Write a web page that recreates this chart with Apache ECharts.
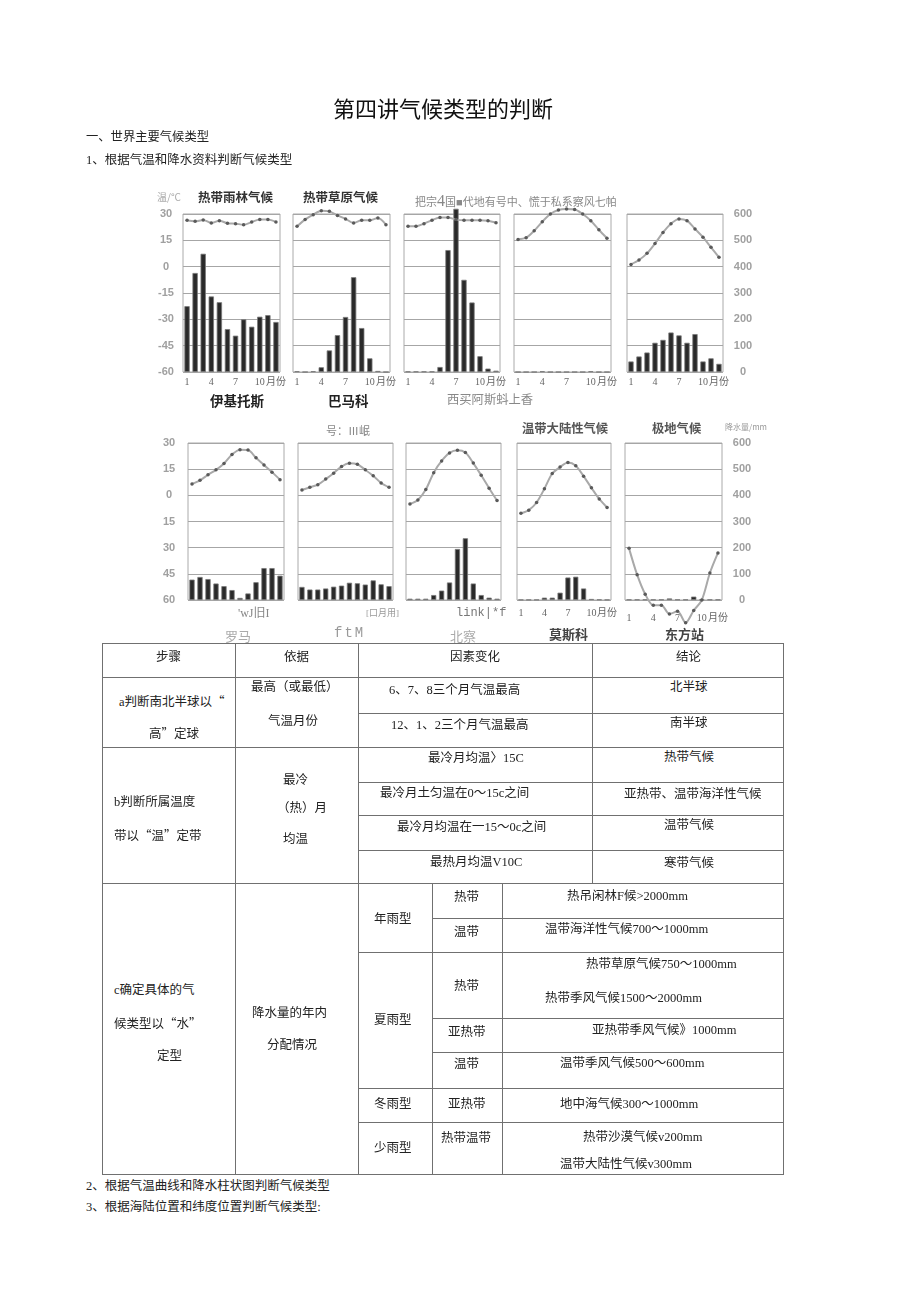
<!DOCTYPE html>
<html><head><meta charset="utf-8">
<script src="https://cdn.jsdelivr.net/npm/echarts@6.0.0/dist/echarts.min.js"></script>
<style>
html,body{margin:0;padding:0;background:#fff;}
body{width:920px;height:1303px;position:relative;overflow:hidden;font-family:"Liberation Serif","Noto Sans CJK SC",serif;color:#222;}
#chart{position:absolute;left:0;top:0;width:920px;height:660px;}
.t{position:absolute;white-space:nowrap;line-height:1;z-index:2;}
.ln{position:absolute;background:#707070;z-index:1;}
.qo{display:inline-block;width:1em;text-align:right;font-family:"Noto Sans CJK SC";}
.qc{display:inline-block;width:1em;text-align:left;font-family:"Noto Sans CJK SC";}
</style></head><body>
<div id="chart"></div>
<script>
// ---------- DATA ----------
const months = ['1','2','3','4','5','6','7','8','9','10','11','12'];
const monthTickLabels = ['1','','','4','','','7','','','10','','月份'];
const tempTickValues = [30,15,0,-15,-30,-45,-60];
const tempTicksTop = ['30','15','0','-15','-30','-45','-60'];
const tempTicksBottom = ['30','15','0','15','30','45','60'];
const precipTickValues = [600,500,400,300,200,100,0];
const precipTicks = ['600','500','400','300','200','100','0'];

// top row
const iquitosTemp = [26.4,25.8,26.6,24.9,26.2,24.7,24.5,23.9,25.4,26.8,26.8,25.4];
const iquitosPrec = [250,376,449,287,265,163,138,200,172,210,216,190];
const bamakoTemp = [23,26.8,29.6,31.9,31.5,29.2,27.2,24.9,26.4,26.4,27.7,23.9];
const bamakoPrec = [3,0,3,18,82,140,209,360,167,52,4,0];
const mumbaiTemp = [23,23,24.5,26.5,28,28,26.8,26.4,26.4,26.4,26.2,25];
const mumbaiPrec = [2,2,2,2,19,463,620,350,264,60,13,5];
const desertTemp = [15.5,16.5,20.5,25.6,30,32.3,32.8,32.6,30,26.2,21,16.2];
const desertPrec = [0,0,0,3,0,0,0,0,0,3,0,0];
const monsoonTemp = [1.3,3.8,7.6,13.2,19.5,24.5,27.2,26.2,21.5,16.8,11,5.3];
const monsoonPrec = [40,59,74,111,122,150,139,111,144,40,52,31];
// bottom row
const romeTemp = [6.5,8.6,11.8,14.6,18.3,23.4,26.2,26,21.5,17.4,13.3,9];
const romePrec = [78,88,80,63,53,38,8,25,68,122,122,93];
const londonTemp = [3.1,4.6,6.1,9.3,12.7,16.5,18.4,17.8,14.6,11.2,7.1,4.6];
const londonPrec = [50,40,40,44,51,55,66,64,59,75,60,53];
const beijingTemp = [-5,-2.7,3.3,13,19.7,24.3,25.8,24.5,18.5,11.5,4.1,-3];
const beijingPrec = [5,5,5,19,36,67,195,236,63,19,9,5];
const moscowTemp = [-10.3,-8.5,-4.1,3.8,12.5,16.2,18.8,17,11,4.3,-2.1,-7];
const moscowPrec = [1,1,1,9,9,28,86,89,44,4,2,1];
const vostokTemp = [-30.4,-45.5,-56.7,-63,-63,-68,-66.5,-73,-66,-60,-44.5,-33];
const vostokPrec = [2,2,2,2,2,6,2,2,13,2,2,2];

const tempSeries = [iquitosTemp,bamakoTemp,mumbaiTemp,desertTemp,monsoonTemp,romeTemp,londonTemp,beijingTemp,moscowTemp,vostokTemp];
const precSeries = [iquitosPrec,bamakoPrec,mumbaiPrec,desertPrec,monsoonPrec,romePrec,londonPrec,beijingPrec,moscowPrec,vostokPrec];

// chart annotation texts
const topTitles = ['温/°C','热带雨林气候','热带草原气候'];
const topNames = ['伊基托斯','巴马科','西买阿斯蚪上香'];
const bottomTitles = ['号：Ⅲ岷','温带大陆性气候','极地气候','降水量/mm'];
const bottomAxisNotes = ["'wJ旧I",'[口月用]','link|*f'];
const bottomNames = ['罗马','ftM','北察','莫斯科','东方站'];

// ---------- LAYOUT ----------
const panelRects = [
  [183,214,97,158],[293,214,97,158],[404,214,96,158],[514,214,97,158],[627,214,96,158],
  [188,443,96,157],[298,443,95,157],[406,443,95,157],[517,443,94,157],[625,443,97,157]
];
const showMonths = [true,true,true,true,true,false,false,false,true,true];
const monthMargins = [5,5,5,5,5,8,8,8,8,13];

const grids=[],xAxes=[],yAxes=[],series=[];
panelRects.forEach((r,i)=>{
  const bottomRow = i>=5;
  grids.push({left:r[0],top:r[1],width:r[2],height:r[3],show:true,borderColor:'#aaaaaa',borderWidth:1,backgroundColor:'transparent'});
  xAxes.push({type:'category',gridIndex:i,data:months,boundaryGap:true,
    axisLine:{show:false},axisTick:{show:false},splitLine:{show:false},
    axisLabel:{show:showMonths[i],interval:0,margin:monthMargins[i],fontSize:10,color:'#666',
      fontFamily:'Liberation Serif, Noto Sans CJK SC',
      formatter:(v,idx)=>monthTickLabels[idx]}});
  const tlabels = bottomRow?tempTicksBottom:tempTicksTop;
  yAxes.push({type:'value',gridIndex:i,min:-60,max:30,interval:15,position:'left',
    axisLine:{show:false},axisTick:{show:false},
    splitLine:{show:true,lineStyle:{color:'#a6a6a6',width:1}},
    axisLabel:{show:(i%5===0),align:'center',margin:bottomRow?19:17,fontSize:11,fontWeight:'bold',color:'#a0a0a0',
      fontFamily:'Liberation Sans',
      formatter:v=>{const k=tempTickValues.indexOf(v);return k>=0?tlabels[k]:'';}}});
  yAxes.push({type:'value',gridIndex:i,min:0,max:600,interval:100,position:'right',
    axisLine:{show:false},axisTick:{show:false},splitLine:{show:false},
    axisLabel:{show:(i%5===4),align:'center',margin:20,fontSize:11,fontWeight:'bold',color:'#a0a0a0',
      fontFamily:'Liberation Sans',
      formatter:v=>{const k=precipTickValues.indexOf(v);return k>=0?precipTicks[k]:'';}}});
  series.push({type:'bar',xAxisIndex:i,yAxisIndex:2*i+1,data:precSeries[i],barWidth:'66%',clip:false,z:2,
    itemStyle:{color:'#2a2a2a',borderColor:'#7a7a7a',borderWidth:0.8}});
  series.push({type:'line',xAxisIndex:i,yAxisIndex:2*i,data:tempSeries[i],smooth:0.3,clip:false,z:3,
    symbol:'circle',symbolSize:3.5,showSymbol:true,
    lineStyle:{color:'#a9a9a9',width:2},itemStyle:{color:'#5a5a5a'}});
});

const chart = echarts.init(document.getElementById('chart'),null,{renderer:'canvas'});
chart.setOption({animation:false,grid:grids,xAxis:xAxes,yAxis:yAxes,series:series});

// ---------- TEXT OVERLAYS ----------
function esc(s){return s.replace(/&/g,'&amp;').replace(/</g,'&lt;').replace(/>/g,'&gt;');}
function T(text,x,y,size,opt){
  opt=opt||{};
  const d=document.createElement('div');
  d.className='t';
  d.innerHTML=opt.html?text:esc(text).replace(/“/g,'<span class="qo">“</span>').replace(/”/g,'<span class="qc">”</span>');
  d.style.left=x+'px';
  d.style.top=(y-size/2)+'px';
  d.style.fontSize=size+'px';
  d.style.height=size+'px';
  if(opt.color) d.style.color=opt.color;
  if(opt.bold) d.style.fontWeight='bold';
  if(opt.family) d.style.fontFamily=opt.family;
  if(opt.ls) d.style.letterSpacing=opt.ls;
  document.body.appendChild(d);
}
function H(x1,x2,y){const d=document.createElement('div');d.className='ln';d.style.left=x1+'px';d.style.top=y+'px';d.style.width=(x2-x1+1)+'px';d.style.height='1px';document.body.appendChild(d);}
function V(x,y1,y2){const d=document.createElement('div');d.className='ln';d.style.left=x+'px';d.style.top=y1+'px';d.style.width='1px';d.style.height=(y2-y1+1)+'px';document.body.appendChild(d);}

const sans='"Noto Sans CJK SC",sans-serif';
// document headings
T('第四讲气候类型的判断',333,107,22,{family:sans,color:'#111'});
T('一、世界主要气候类型',86,137,12.3);
T('1、根据气温和降水资料判断气候类型',86,160,12.5);
T('2、根据气温曲线和降水柱状图判断气候类型',86,1186,12.5);
T('3、根据海陆位置和纬度位置判断气候类型:',86,1207,12.5);

// chart annotations
T(topTitles[0],157,197,10,{color:'#aaa',family:sans});
T(topTitles[1],198,197,12.5,{color:'#333',bold:true,family:sans});
T(topTitles[2],303,197,12.5,{color:'#333',bold:true,family:sans});
T('把宗<span style="font-size:16px">4</span>国■代地有号中、慌于私系察风七帕',415,198,11,{color:'#888',html:true});
T(topNames[0],210,401,13.5,{color:'#222',bold:true,family:sans});
T(topNames[1],328,401,13.5,{color:'#222',bold:true,family:sans});
T(topNames[2],447,400,12.3,{color:'#888'});
T(bottomTitles[0],326,431,11,{color:'#888'});
T(bottomTitles[1],522,428,12.3,{color:'#555',bold:true,family:sans});
T(bottomTitles[2],652,428,12.3,{color:'#555',bold:true,family:sans});
T(bottomTitles[3],725,427,8,{color:'#999',family:sans});
T(bottomAxisNotes[0],238,613,12,{color:'#888'});
T(bottomAxisNotes[1],366,613,9,{color:'#999'});
T(bottomAxisNotes[2],456,613,12,{color:'#777',family:'Liberation Mono'});
T(bottomNames[0],225,636,13,{color:'#aaa'});
T(bottomNames[1],334,633,14,{color:'#999',family:'Liberation Mono',ls:'2px'});
T(bottomNames[2],450,636,13,{color:'#aaa'});
T(bottomNames[3],549,633,13,{color:'#444',bold:true,family:sans});
T(bottomNames[4],665,633,13,{color:'#444',bold:true,family:sans});

// ---------- TABLE ----------
H(102,783,643); H(102,783,677); H(102,783,747); H(102,783,883); H(102,783,1174);
V(102,643,1174); V(235,643,1174); V(358,643,1174); V(783,643,1174);
V(592,643,883); V(432,883,1174); V(502,883,1174);
H(358,783,713); H(358,783,782); H(358,783,815); H(358,783,850);
H(432,783,918); H(358,783,952); H(432,783,1018); H(432,783,1052); H(358,783,1088); H(358,783,1122);

const fs=12.5;
T('步骤',156,657,fs); T('依据',284,657,fs); T('因素变化',450,657,fs); T('结论',676,657,fs);
T('a判断南北半球以“',119,701,fs); T('高”定球',149,733,fs);
T('最高（或最低）',251,687,fs); T('气温月份',268,721,fs);
T('6、7、8三个月气温最高',389,690,fs); T('12、1、2三个月气温最高',391,725,fs);
T('北半球',670,687,fs); T('南半球',670,723,fs);
T('最冷月均温〉15C',428,758,fs); T('热带气候',664,757,fs);
T('最冷月土匀温在0～15c之间',380,793,fs); T('亚热带、温带海洋性气候',624,794,fs);
T('最冷月均温在一15～0c之间',397,827,fs); T('温带气候',664,825,fs);
T('最热月均温V10C',430,862,fs); T('寒带气候',664,863,fs);
T('b判断所属温度',114,802,fs); T('带以“温”定带',114,835,fs);
T('最冷',283,780,fs); T('（热）月',277,808,fs); T('均温',283,839,fs);
T('c确定具体的气',114,990,fs); T('候类型以“水”',114,1023,fs); T('定型',157,1056,fs);
T('降水量的年内',252,1013,fs); T('分配情况',267,1045,fs);
T('年雨型',374,919,fs); T('夏雨型',374,1020,fs); T('冬雨型',374,1104,fs); T('少雨型',374,1148,fs);
T('热带',454,897,fs); T('温带',454,932,fs); T('热带',454,986,fs); T('亚热带',448,1032,fs);
T('温带',454,1064,fs); T('亚热带',448,1104,fs); T('热带温带',441,1138,fs);
T('热吊闲林F候>2000mm',567,896,fs); T('温带海洋性气候700～1000mm',545,929,fs);
T('热带草原气候750～1000mm',586,964,fs); T('热带季风气候1500～2000mm',545,998,fs);
T('亚热带季风气候》1000mm',592,1030,fs); T('温带季风气候500～600mm',560,1063,fs);
T('地中海气候300～1000mm',560,1104,fs); T('热带沙漠气候v200mm',583,1137,fs);
T('温带大陆性气候v300mm',560,1164,fs);
</script>
</body></html>
